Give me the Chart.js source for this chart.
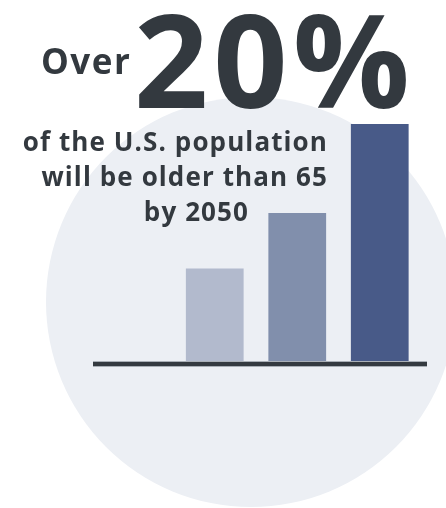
<!DOCTYPE html>
<html>
<head>
<meta charset="utf-8">
<script src="https://cdn.jsdelivr.net/npm/chart.js@4/dist/chart.umd.min.js"></script>
<style>
    html, body { margin: 0; padding: 0; background: #ffffff; }
    #wrap { position: relative; width: 446px; height: 508px; overflow: hidden; }
    #circle { position: absolute; left: 46px; top: 97px; width: 410px; height: 410px; border-radius: 50%; background: #eceff4; }
    #popChart { position: absolute; left: 0; top: 0; }
    .txt { position: absolute; font-family: "Open Sans", sans-serif; font-weight: 700; color: #33393f; white-space: nowrap; line-height: 1; }
    #over { left: 41px; top: 43px; font-size: 35px; letter-spacing: 1.5px; }
    #big { left: 134px; top: -7px; font-size: 130px; letter-spacing: 5px; }
    .sub { font-size: 26px; letter-spacing: 1.1px; text-align: right; }
</style>
</head>
<body>
<div id="wrap">
    <div id="circle"></div>
    <canvas id="popChart" width="446" height="508"></canvas>
    <div class="txt" id="over">Over</div>
    <div class="txt" id="big">20%</div>
    <div class="txt sub" style="right:118px; top:128px;">of the U.S. population</div>
    <div class="txt sub" style="right:118px; top:163px;">will be older than 65</div>
    <div class="txt sub" style="right:197px; top:198px;">by 2050</div>
</div>
<script>
// share of population aged 65+ (%)
const categories = ['', 'then', 'now', '2050'];
const shareValues = [null, 7.8, 12.5, 20];
const barColors = ['#b2bacd', '#b2bacd', '#818fac', '#485a88'];

// thick dark baseline under the bars
const baselinePlugin = {
    id: 'baseline',
    afterDatasetsDraw(chart) {
        const { ctx, chartArea } = chart;
        ctx.save();
        ctx.fillStyle = '#a9afb6';
        ctx.fillRect(chartArea.left + 2, chartArea.bottom, chartArea.right - chartArea.left + 4, 6);
        ctx.fillStyle = '#343a40';
        ctx.fillRect(chartArea.left + 2, chartArea.bottom + 1, chartArea.right - chartArea.left + 4, 4);
        ctx.restore();
    }
};

const ctx = document.getElementById('popChart').getContext('2d');
new Chart(ctx, {
    type: 'bar',
    data: {
        labels: categories,
        datasets: [{
            data: shareValues,
            backgroundColor: barColors,
            borderWidth: 0,
            categoryPercentage: 1,
            barPercentage: 0.7
        }]
    },
    options: {
        responsive: false,
        animation: false,
        layout: { padding: { left: 91, right: 25, top: 124, bottom: 147 } },
        plugins: {
            legend: { display: false },
            tooltip: { enabled: false }
        },
        scales: {
            x: { display: false },
            y: { display: false, min: 0, max: 20 }
        }
    },
    plugins: [baselinePlugin]
});
</script>
</body>
</html>
